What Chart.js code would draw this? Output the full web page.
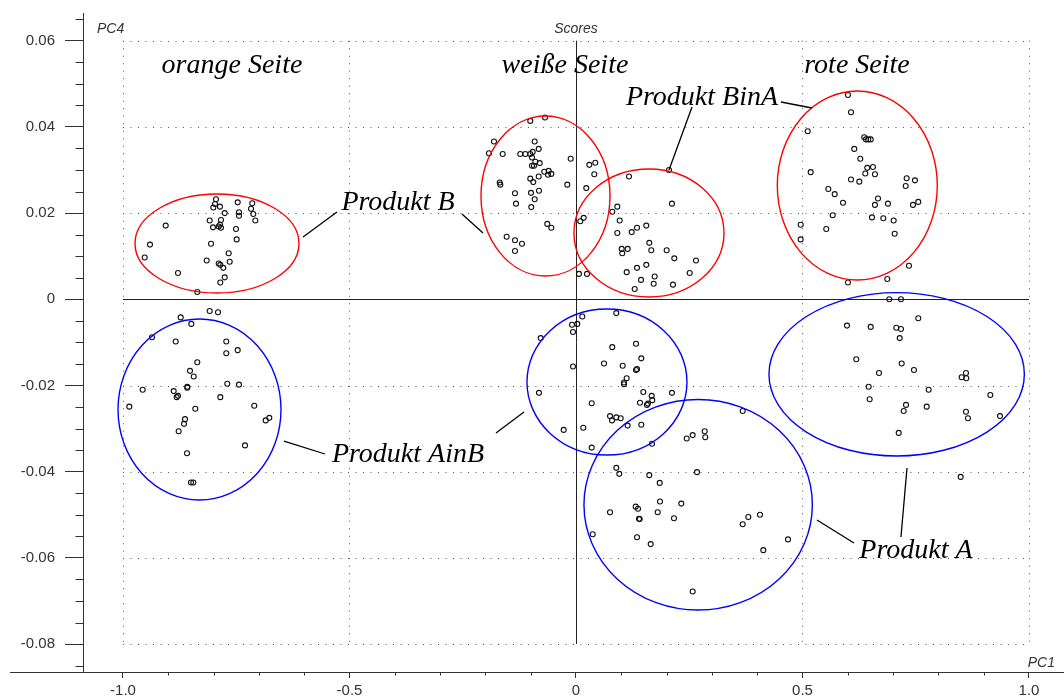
<!DOCTYPE html>
<html>
<head>
<meta charset="utf-8">
<script src="https://cdn.jsdelivr.net/npm/chart.js@4.4.0/dist/chart.umd.min.js"></script>
<style>
  html, body { margin: 0; padding: 0; background: #ffffff; }
  #wrap { width: 1064px; height: 700px; position: relative; }
</style>
</head>
<body>
<div id="wrap"><canvas id="c" width="1064" height="700"></canvas></div>
<script>
// ---------- tick values and labels ----------
const xMajorTicks = [-1.0, -0.5, 0, 0.5, 1.0];
const xTickLabels = ['-1.0', '-0.5', '0', '0.5', '1.0'];
const yMajorTicks = [0.06, 0.04, 0.02, 0, -0.02, -0.04, -0.06, -0.08];
const yTickLabels = ['0.06', '0.04', '0.02', '0', '-0.02', '-0.04', '-0.06', '-0.08'];
const xAxisTitle = 'PC1';
const yAxisTitle = 'PC4';
const chartTitle = 'Scores';

// ---------- scores (PC1, PC4) per group ----------
const orangeB = [
  [-0.7947,0.0232],[-0.7969,0.0221],[-0.7859,0.0215],[-0.8007,0.0213],[-0.7468,0.0225],
  [-0.7146,0.0223],[-0.7174,0.0210],[-0.7755,0.0200],[-0.7439,0.0202],[-0.7439,0.0194],
  [-0.7124,0.0198],[-0.8086,0.0183],[-0.7837,0.0184],[-0.7079,0.0183],[-0.9057,0.0171],
  [-0.7859,0.0173],[-0.7887,0.0169],[-0.8013,0.0167],[-0.7837,0.0166],[-0.7506,0.0163],
  [-0.7490,0.0139],[-0.9404,0.0127],[-0.8057,0.0129],[-0.9521,0.0097],[-0.7667,0.0107],
  [-0.8152,0.0090],[-0.7645,0.0087],[-0.7887,0.0083],[-0.7852,0.0080],[-0.7786,0.0073],
  [-0.8786,0.0061],[-0.7755,0.0051],[-0.7852,0.0039],[-0.8360,0.0017]
];
const orangeAinB = [
  [-0.8086,-0.0027],[-0.7903,-0.0030],[-0.8726,-0.0042],[-0.8492,-0.0057],[-0.9360,-0.0088],
  [-0.8837,-0.0098],[-0.7720,-0.0098],[-0.7720,-0.0125],[-0.7468,-0.0118],[-0.8360,-0.0146],
  [-0.8521,-0.0166],[-0.8439,-0.0179],[-0.8581,-0.0203],[-0.8581,-0.0205],[-0.7698,-0.0196],
  [-0.7439,-0.0198],[-0.9565,-0.0210],[-0.8881,-0.0213],[-0.8786,-0.0224],[-0.8815,-0.0227],
  [-0.7852,-0.0227],[-0.9861,-0.0249],[-0.7102,-0.0247],[-0.8404,-0.0254],[-0.8631,-0.0278],
  [-0.8653,-0.0289],[-0.6850,-0.0281],[-0.6770,-0.0275],[-0.8771,-0.0306],[-0.7307,-0.0339],
  [-0.8587,-0.0357],[-0.8499,-0.0425],[-0.8448,-0.0425]
];
const weissB = [
  [-0.0684,0.0422],[-0.1009,0.0414],[-0.1810,0.0366],[-0.0912,0.0366],[-0.0823,0.0349],
  [-0.1921,0.0339],[-0.1618,0.0337],[-0.1230,0.0337],[-0.1119,0.0337],[-0.1009,0.0337],
  [-0.0956,0.0342],[-0.0971,0.0329],[-0.0898,0.0319],[-0.0801,0.0316],[-0.0971,0.0310],
  [-0.0927,0.0310],[-0.0117,0.0326],[0.0294,0.0312],[0.0426,0.0317],[0.0404,0.0290],
  [-0.0700,0.0296],[-0.0603,0.0298],[-0.0618,0.0289],[-0.0545,0.0291],[-0.0823,0.0285],
  [-0.1009,0.0280],[-0.0943,0.0272],[-0.1684,0.0271],[-0.1671,0.0266],[-0.0192,0.0266],
  [0.0227,0.0258],[-0.0817,0.0252],[-0.1347,0.0246],[-0.0993,0.0247],[-0.0912,0.0232],
  [-0.1325,0.0222],[-0.0987,0.0214],[-0.0634,0.0175],[-0.0545,0.0166],[-0.1530,0.0145],
  [-0.1347,0.0137],[-0.1192,0.0129],[-0.1347,0.0112],[0.0170,0.0189],[0.0095,0.0181],
  [0.0066,0.0059],[0.0243,0.0059]
];
const weissBinA = [
  [0.2053,0.0300],[0.1170,0.0285],[0.2119,0.0222],[0.0912,0.0215],[0.0801,0.0203],
  [0.0965,0.0183],[0.1552,0.0171],[0.1347,0.0166],[0.1230,0.0156],[0.0912,0.0154],
  [0.1618,0.0131],[0.1009,0.0117],[0.1141,0.0117],[0.1022,0.0107],[0.1662,0.0114],
  [0.2002,0.0114],[0.2170,0.0095],[0.2649,0.0090],[0.1552,0.0080],[0.1347,0.0073],
  [0.1119,0.0063],[0.2510,0.0061],[0.1737,0.0053],[0.1435,0.0045],[0.1715,0.0036],
  [0.2141,0.0034],[0.1296,0.0024]
];
const weissAinB = [
  [0.0890,-0.0032],[0.0139,-0.0040],[0.0029,-0.0057],[-0.0088,-0.0059],[-0.0066,-0.0076],
  [-0.0779,-0.0090],[0.1325,-0.0103],[0.0801,-0.0111],[0.1442,-0.0137],[0.0618,-0.0149],
  [0.1031,-0.0154],[-0.0066,-0.0156],[0.1325,-0.0164],[0.1347,-0.0162],[0.1119,-0.0183],
  [0.1060,-0.0193],[0.1060,-0.0197],[-0.0817,-0.0217],[0.1486,-0.0215],[0.1671,-0.0224],
  [0.2119,-0.0217],[0.1684,-0.0234],[0.1413,-0.0240],[0.1589,-0.0242],[0.1567,-0.0245],
  [0.0347,-0.0241],[0.0751,-0.0271],[0.0795,-0.0281],[0.0890,-0.0274],[0.0987,-0.0276],
  [0.1141,-0.0293],[0.1442,-0.0291],[-0.0272,-0.0303],[0.0161,-0.0298],[0.1678,-0.0335],
  [0.0347,-0.0344]
];
const weissA = [
  [0.3680,-0.0259],[0.2444,-0.0323],[0.2576,-0.0315],[0.2841,-0.0306],[0.2854,-0.0320],
  [0.2671,-0.0401],[0.0890,-0.0391],[0.0956,-0.0405],[0.1618,-0.0408],[0.1848,-0.0426],
  [0.1854,-0.0469],[0.2325,-0.0474],[0.1804,-0.0494],[0.1318,-0.0481],[0.1369,-0.0486],
  [0.1391,-0.0509],[0.1406,-0.0510],[0.0751,-0.0494],[0.2163,-0.0508],[0.3680,-0.0522],
  [0.3804,-0.0505],[0.0369,-0.0545],[0.1347,-0.0552],[0.1649,-0.0568],[0.2576,-0.0678],
  [0.4062,-0.0500],[0.4680,-0.0557],[0.4135,-0.0582]
];
const rotBinA = [
  [0.6004,0.0474],[0.6071,0.0434],[0.5115,0.0390],[0.6364,0.0376],[0.6402,0.0371],
  [0.6453,0.0371],[0.6506,0.0371],[0.6143,0.0349],[0.6276,0.0326],[0.6430,0.0305],
  [0.6556,0.0307],[0.6386,0.0292],[0.6600,0.0290],[0.5181,0.0295],[0.6071,0.0278],
  [0.6254,0.0273],[0.7300,0.0281],[0.7483,0.0276],[0.7278,0.0263],[0.5570,0.0256],
  [0.5711,0.0244],[0.6667,0.0234],[0.5894,0.0224],[0.6600,0.0219],[0.6887,0.0222],
  [0.7556,0.0226],[0.7439,0.0219],[0.5667,0.0195],[0.6534,0.0190],[0.6784,0.0188],
  [0.7013,0.0183],[0.4960,0.0173],[0.5525,0.0163],[0.7035,0.0152],[0.4960,0.0139],
  [0.7351,0.0078],[0.6872,0.0047],[0.6004,0.0039]
];
const rotA = [
  [0.6916,0.0000],[0.7174,0.0000],[0.7556,-0.0044],[0.5982,-0.0061],[0.6506,-0.0064],
  [0.7071,-0.0066],[0.7174,-0.0069],[0.7146,-0.0090],[0.6188,-0.0139],[0.7190,-0.0149],
  [0.7461,-0.0164],[0.6689,-0.0171],[0.8609,-0.0171],[0.8514,-0.0181],[0.8616,-0.0183],
  [0.6461,-0.0203],[0.7786,-0.0210],[0.9146,-0.0222],[0.6483,-0.0232],[0.7285,-0.0245],
  [0.7742,-0.0249],[0.7234,-0.0259],[0.8609,-0.0261],[0.8653,-0.0276],[0.9360,-0.0271],
  [0.7124,-0.0310],[0.8492,-0.0412]
];

// ---------- group ellipses (data units): centre x, centre y, half-width, half-height ----------
const redEllipses = [
  [-0.7925, 0.01295, 0.1810, 0.01148],
  [-0.0673, 0.02397, 0.1424, 0.01856],
  [ 0.1611, 0.01538, 0.1656, 0.01485],
  [ 0.6210, 0.02640, 0.1766, 0.02193]
];
const blueEllipses = [
  [-0.8311, -0.02557, 0.1799, 0.02100],
  [ 0.0684, -0.01919, 0.1766, 0.01694],
  [ 0.2697, -0.04767, 0.2521, 0.02442],
  [ 0.7079, -0.01740, 0.2819, 0.01896]
];

// ---------- labels and leader lines (data units) ----------
const sideLabels = [
  ['orange Seite', -0.7594, 0.0525],
  ['weiße Seite', -0.0243, 0.0525],
  ['rote Seite', 0.6203, 0.0525]
];
const productLabels = [
  ['Produkt BinA', 0.2781, 0.0451],
  ['Produkt B', -0.3929, 0.0207],
  ['Produkt AinB', -0.3709, -0.0377],
  ['Produkt A', 0.7506, -0.0600]
];
const leaderLines = [
  [-0.6026, 0.01445, -0.5276, 0.02026],
  [-0.2517, 0.01979, -0.2053, 0.01538],
  [ 0.2561, 0.04462,  0.2053, 0.03000],
  [ 0.4525, 0.04578,  0.5210, 0.04439],
  [-0.6446,-0.03288, -0.5541,-0.03589],
  [-0.1766,-0.03102, -0.1148,-0.02615],
  [ 0.5320,-0.05121,  0.6137,-0.05654],
  [ 0.7307,-0.03915,  0.7174,-0.05515]
];

const groups = [orangeB, orangeAinB, weissB, weissBinA, weissAinB, weissA, rotBinA, rotA];
const groupNames = ['orange B', 'orange AinB', 'weiß B', 'weiß BinA', 'weiß AinB', 'weiß A', 'rot BinA', 'rot A'];

const AXIS_COLOR = '#333333';
const SANS = '"Liberation Sans", Arial, sans-serif';
const SERIF = '"Liberation Serif", "Times New Roman", serif';

const decorPlugin = {
  id: 'decor',
  beforeDatasetsDraw(chart) {
    const ctx = chart.ctx;
    const xs = chart.scales.x, ys = chart.scales.y;
    const gx0 = xs.getPixelForValue(xMajorTicks[0]);
    const gx1 = xs.getPixelForValue(xMajorTicks[xMajorTicks.length - 1]);
    const gy0 = ys.getPixelForValue(yMajorTicks[0]);
    const gy1 = ys.getPixelForValue(yMajorTicks[yMajorTicks.length - 1]);
    ctx.save();
    // dotted grid
    ctx.strokeStyle = '#555555';
    ctx.lineWidth = 1;
    ctx.setLineDash([1, 6.5]);
    yMajorTicks.forEach(v => {
      if (v === 0) return;
      const p = Math.round(ys.getPixelForValue(v)) + 0.5;
      ctx.beginPath(); ctx.moveTo(gx0, p); ctx.lineTo(gx1, p); ctx.stroke();
    });
    xMajorTicks.forEach(v => {
      if (v === 0) return;
      const p = Math.round(xs.getPixelForValue(v)) + 0.5;
      ctx.beginPath(); ctx.moveTo(p, gy0); ctx.lineTo(p, gy1); ctx.stroke();
    });
    ctx.setLineDash([]);
    // zero lines
    ctx.strokeStyle = '#222222';
    const zy = Math.round(ys.getPixelForValue(0)) + 0.5;
    ctx.beginPath(); ctx.moveTo(gx0, zy); ctx.lineTo(gx1, zy); ctx.stroke();
    const zx = Math.round(xs.getPixelForValue(0)) + 0.5;
    ctx.beginPath(); ctx.moveTo(zx, gy0); ctx.lineTo(zx, gy1); ctx.stroke();

    // minor ticks
    ctx.strokeStyle = AXIS_COLOR;
    const axX = Math.round(chart.chartArea.left) + 0.5;
    const axY = Math.round(chart.chartArea.bottom) + 0.5;
    for (let i = -17; i <= 13; i++) {
      const v = i * 0.005;
      if (i % 4 === 0) continue;
      if (v < ys.min || v > ys.max) continue;
      const p = Math.round(ys.getPixelForValue(v)) + 0.5;
      ctx.beginPath(); ctx.moveTo(axX - 8, p); ctx.lineTo(axX, p); ctx.stroke();
    }
    for (let i = -10; i <= 10; i++) {
      if (i % 5 === 0) continue;
      const v = i * 0.1;
      if (v < xs.min || v > xs.max) continue;
      const p = Math.round(xs.getPixelForValue(v)) + 0.5;
      ctx.beginPath(); ctx.moveTo(p, axY); ctx.lineTo(p, axY + 3); ctx.stroke();
    }
    // x axis line extends left of the y axis
    ctx.beginPath(); ctx.moveTo(10, axY); ctx.lineTo(chart.chartArea.left, axY); ctx.stroke();

    // axis titles and chart title
    ctx.fillStyle = '#333333';
    ctx.font = 'italic 14px ' + SANS;
    ctx.textBaseline = 'alphabetic';
    ctx.textAlign = 'center';
    ctx.fillText(chartTitle, xs.getPixelForValue(0), chart.chartArea.top + 20);
    ctx.textAlign = 'left';
    ctx.fillText(yAxisTitle, chart.chartArea.left + 14, chart.chartArea.top + 20);
    ctx.textAlign = 'right';
    ctx.fillText(xAxisTitle, chart.chartArea.right - 9, chart.chartArea.bottom - 5);
    ctx.restore();
  },
  afterDatasetsDraw(chart) {
    const ctx = chart.ctx;
    const xs = chart.scales.x, ys = chart.scales.y;
    ctx.save();
    const drawEll = (e, color) => {
      const cx = xs.getPixelForValue(e[0]);
      const cy = ys.getPixelForValue(e[1]);
      const rx = xs.getPixelForValue(e[0] + e[2]) - cx;
      const ry = cy - ys.getPixelForValue(e[1] + e[3]);
      ctx.strokeStyle = color;
      ctx.lineWidth = 1.4;
      ctx.beginPath();
      ctx.ellipse(cx, cy, rx, ry, 0, 0, Math.PI * 2);
      ctx.stroke();
    };
    redEllipses.forEach(e => drawEll(e, '#ff0000'));
    blueEllipses.forEach(e => drawEll(e, '#0000ff'));

    ctx.strokeStyle = '#000000';
    ctx.lineWidth = 1.3;
    leaderLines.forEach(l => {
      ctx.beginPath();
      ctx.moveTo(xs.getPixelForValue(l[0]), ys.getPixelForValue(l[1]));
      ctx.lineTo(xs.getPixelForValue(l[2]), ys.getPixelForValue(l[3]));
      ctx.stroke();
    });

    ctx.fillStyle = '#000000';
    ctx.font = 'italic 28px ' + SERIF;
    ctx.textAlign = 'center';
    ctx.textBaseline = 'alphabetic';
    sideLabels.concat(productLabels).forEach(t => {
      ctx.fillText(t[0], xs.getPixelForValue(t[1]), ys.getPixelForValue(t[2]));
    });
    ctx.restore();
  }
};

const datasets = groups.map((g, i) => ({
  label: groupNames[i],
  data: g.map(p => ({ x: p[0], y: p[1] })),
  pointRadius: 2.5,
  pointBorderWidth: 1.1,
  pointBorderColor: '#111111',
  pointBackgroundColor: 'rgba(0,0,0,0)',
  showLine: false
}));

new Chart(document.getElementById('c'), {
  type: 'scatter',
  data: { datasets },
  plugins: [decorPlugin],
  options: {
    responsive: false,
    animation: false,
    clip: false,
    layout: { autoPadding: false, padding: { top: 13, right: 0, left: 0, bottom: 0 } },
    plugins: { legend: { display: false }, tooltip: { enabled: false }, title: { display: false } },
    scales: {
      x: {
        type: 'linear',
        min: -1.0883, max: 1.0773,
        afterBuildTicks: s => { s.ticks = xMajorTicks.map(v => ({ value: v })); },
        afterFit: s => { s.height = 28; s.paddingLeft = 0; s.paddingRight = 0; },
        ticks: {
          autoSkip: false, maxRotation: 0, padding: 4,
          color: '#333333', font: { family: SANS, size: 15 },
          callback: v => xTickLabels[xMajorTicks.indexOf(v)]
        },
        grid: { display: true, drawOnChartArea: false, drawTicks: true, tickLength: 6, tickColor: AXIS_COLOR, tickWidth: 1 },
        border: { display: true, color: AXIS_COLOR, width: 1 }
      },
      y: {
        type: 'linear',
        min: -0.08647, max: 0.06643,
        afterBuildTicks: s => { s.ticks = yMajorTicks.map(v => ({ value: v })); },
        afterFit: s => { s.width = 83; s.paddingTop = 0; s.paddingBottom = 0; },
        ticks: {
          autoSkip: false, padding: 10,
          color: '#333333', font: { family: SANS, size: 15 },
          callback: v => yTickLabels[yMajorTicks.indexOf(v)]
        },
        grid: { display: true, drawOnChartArea: false, drawTicks: true, tickLength: 18, tickColor: AXIS_COLOR, tickWidth: 1 },
        border: { display: true, color: AXIS_COLOR, width: 1 }
      }
    }
  }
});
</script>
</body>
</html>
